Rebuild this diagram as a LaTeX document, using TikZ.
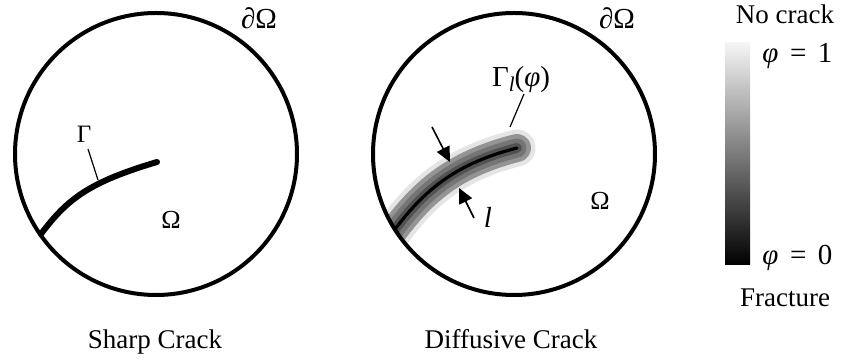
\documentclass[tikz,border=0pt]{standalone}
\usepackage{fontspec}
\setmainfont{Liberation Serif}
\usetikzlibrary{arrows.meta}
\begin{document}
\begin{tikzpicture}[x=0.5pt,y=-0.5pt,
  domainline/.style={draw=black,line width=2pt},
  title/.style={font=\fontsize{13.5}{16}\selectfont,anchor=base},
  mlabel/.style={font=\fontsize{13}{15}\selectfont,inner sep=0pt},
  biglabel/.style={font=\fontsize{14.5}{17}\selectfont,inner sep=0pt},
  leader/.style={draw=black,line width=0.6pt},
  arr/.style={draw=black,line width=0.8pt,-{Triangle[length=7.5pt,width=7pt]}},
  band/.style={line cap=round}]
\useasboundingbox (0,0) rectangle (848,362);
% left circle
\coordinate (c1) at (156,154);
\coordinate (a1) at (41,234);
\coordinate (b1) at (157,162);
\draw[line width=3pt,line cap=round] (a1) .. controls (68,198) and (90,182) .. (b1);
\draw[domainline] (c1) circle[radius=141];
\node[mlabel,font=\fontsize{12.5}{15}\selectfont] (g1) at (84,134) {Γ};
\coordinate (g1s) at (88,149);
\coordinate (g1e) at (98,180);
\draw[leader] (g1s) -- (g1e);
\node[mlabel] (o1) at (171,220) {Ω};
\node[biglabel] (d1) at (259,18) {∂Ω};
\node[title] (t1) at (155,349) {Sharp Crack};
% right circle
\coordinate (c2) at (514,154);
\coordinate (a2) at (390,236);
\coordinate (b2) at (517,148);
\begin{scope}
\clip (c2) circle[radius=141];
\draw[band,line width=18.5pt,color=black!10] (a2) .. controls (420,195) and (450,165) .. (b2);
\draw[band,line width=14pt,color=black!42] (a2) .. controls (420,195) and (450,165) .. (b2);
\draw[band,line width=9.5pt,color=black!54] (a2) .. controls (420,195) and (450,165) .. (b2);
\draw[band,line width=5pt,color=black!68] (a2) .. controls (420,195) and (450,165) .. (b2);
\draw[band,line width=1.6pt,color=black] (a2) .. controls (420,195) and (450,165) .. (b2);
\end{scope}
\draw[domainline] (c2) circle[radius=141];
\coordinate (u1) at (432,127);
\coordinate (u2) at (450,162);
\coordinate (v1) at (474,218);
\coordinate (v2) at (459,188);
\draw[arr] (u1) -- (u2);
\draw[arr] (v1) -- (v2);
\node[biglabel] (lab) at (488,217) {\itshape l};
\node[biglabel] (g2) at (521,80) {Γ\raisebox{-0.35ex}{\fontsize{10.5}{12}\selectfont\itshape l}(\textit{φ})};
\coordinate (g2s) at (524,94);
\coordinate (g2e) at (510,127);
\draw[leader] (g2s) -- (g2e);
\node[mlabel] (o2) at (600,201) {Ω};
\node[biglabel] (d2) at (617,18) {∂Ω};
\node[title] (t2) at (511,349) {Diffusive Crack};
% colour bar
\shade[top color=black!4, bottom color=black] (725,43) rectangle (750,265);
\node[biglabel,anchor=west] (p1) at (762,56) {\textit{φ}\hspace{0.4em}=\hspace{0.4em}1};
\node[biglabel,anchor=west] (p0) at (762,258) {\textit{φ}\hspace{0.4em}=\hspace{0.4em}0};
\node[title,anchor=center] (nc) at (785,14) {No crack};
\node[title,anchor=center] (fr) at (785,298) {Fracture};
\end{tikzpicture}
\end{document}
